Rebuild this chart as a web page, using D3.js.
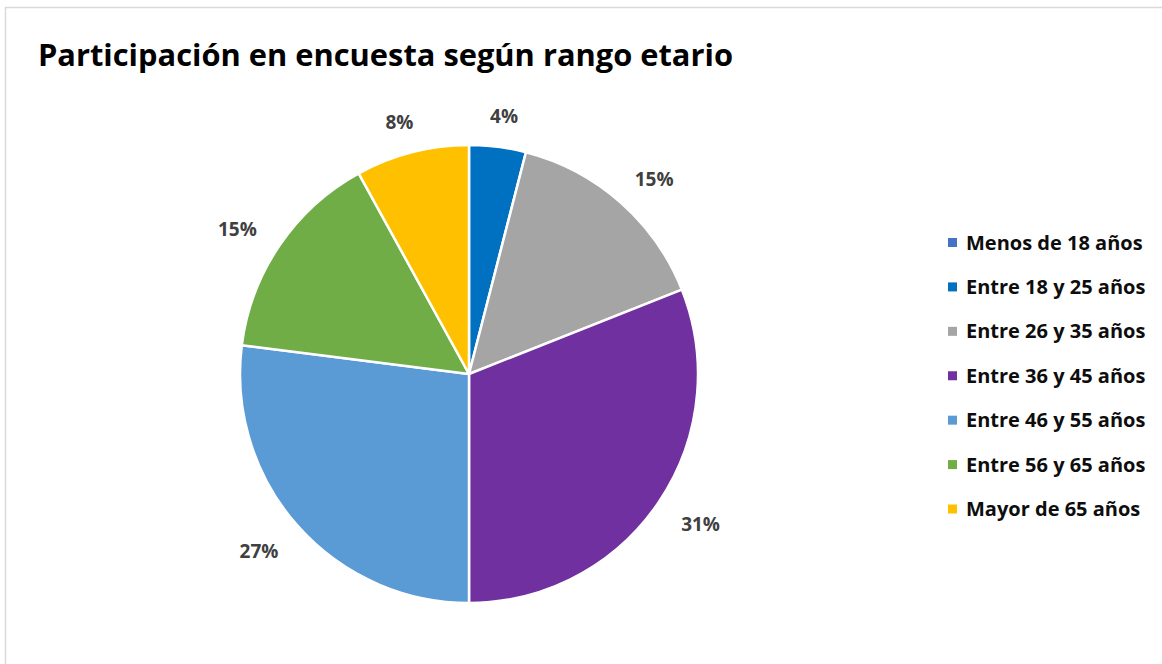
<!DOCTYPE html>
<html>
<head>
<meta charset="utf-8">
<script src="https://cdn.jsdelivr.net/npm/d3@7"></script>
<style>
  body { margin: 0; background: #fff; }
  svg { display: block; }
</style>
</head>
<body>
<div class="chart"></div>
<script>
let categories = ["Menos de 18 años", "Entre 18 y 25 años", "Entre 26 y 35 años", "Entre 36 y 45 años",
                  "Entre 46 y 55 años", "Entre 56 y 65 años", "Mayor de 65 años"];
let values = [0, 4, 15, 31, 27, 15, 8];
let colors = ["#4472C4", "#0070C0", "#A5A5A5", "#7030A0", "#5B9BD5", "#70AD47", "#FFC000"];
let title = "Participación en encuesta según rango etario";

let width = 1162, height = 664;
let cx = 469, cy = 374, radius = 229;
let font = "'Open Sans', 'Noto Sans', sans-serif";

let svg = d3.select(".chart")
    .append("svg")
        .attr("width", width)
        .attr("height", height);

// chart area border (runs off the right and bottom)
svg.append("rect")
    .attr("x", 5.5).attr("y", 7.5)
    .attr("width", width + 20).attr("height", height + 20)
    .attr("fill", "#fff")
    .attr("stroke", "#d9d9d9")
    .attr("stroke-width", 1.5);

svg.append("text")
    .attr("x", 38).attr("y", 66)
    .attr("font-family", font)
    .attr("font-weight", 700)
    .attr("font-size", 31)
    .attr("fill", "#000")
    .attr("textLength", 695)
    .attr("lengthAdjust", "spacingAndGlyphs")
    .text(title);

let total = d3.sum(values);
let rows = categories.map((c, i) => ({ name: c, value: values[i], color: colors[i] }));

let pie = d3.pie().sort(null).value(d => d.value);
let arc = d3.arc().innerRadius(0).outerRadius(radius);

let g = svg.append("g").attr("transform", `translate(${cx}, ${cy})`);

let arcs = pie(rows).filter(d => d.data.value > 0);

g.selectAll("path")
    .data(arcs)
    .enter()
    .append("path")
    .attr("d", arc)
    .attr("fill", d => d.data.color)
    .attr("stroke", "#fff")
    .attr("stroke-width", 2.5)
    .attr("stroke-linejoin", "round");

// outside-end labels
let labelSize = 19;
g.selectAll("text.lbl")
    .data(arcs)
    .enter()
    .append("text")
    .attr("class", "lbl")
    .each(function (d) {
        let a = (d.startAngle + d.endAngle) / 2;
        let s = Math.sin(a), c = Math.cos(a);
        let txt = Math.round(d.data.value / total * 100) + "%";
        let halfW = 24, halfH = 7;
        let r = radius + 27;
        let x = r * s + s * halfW;
        let y = -r * c - c * halfH + 3;
        d3.select(this)
            .attr("x", x).attr("y", y)
            .attr("dy", "0.35em")
            .attr("text-anchor", "middle")
            .text(txt);
    })
    .attr("font-family", font)
    .attr("font-weight", 700)
    .attr("font-size", labelSize)
    .attr("fill", "#404040");

// legend
let legendY = d3.scalePoint()
    .domain(categories)
    .range([242.5, 509]);

let legend = svg.append("g");
let item = legend.selectAll("g")
    .data(rows)
    .enter()
    .append("g")
    .attr("transform", d => `translate(948, ${legendY(d.name)})`);

item.append("rect")
    .attr("x", 0).attr("y", -4.5)
    .attr("width", 9).attr("height", 9)
    .attr("fill", d => d.color);

item.append("text")
    .attr("x", 18).attr("y", 0)
    .attr("dy", "0.35em")
    .attr("font-family", font)
    .attr("font-weight", 700)
    .attr("font-size", 20)
    .attr("fill", "#0d0d0d")
    .text(d => d.name);
</script>
</body>
</html>
